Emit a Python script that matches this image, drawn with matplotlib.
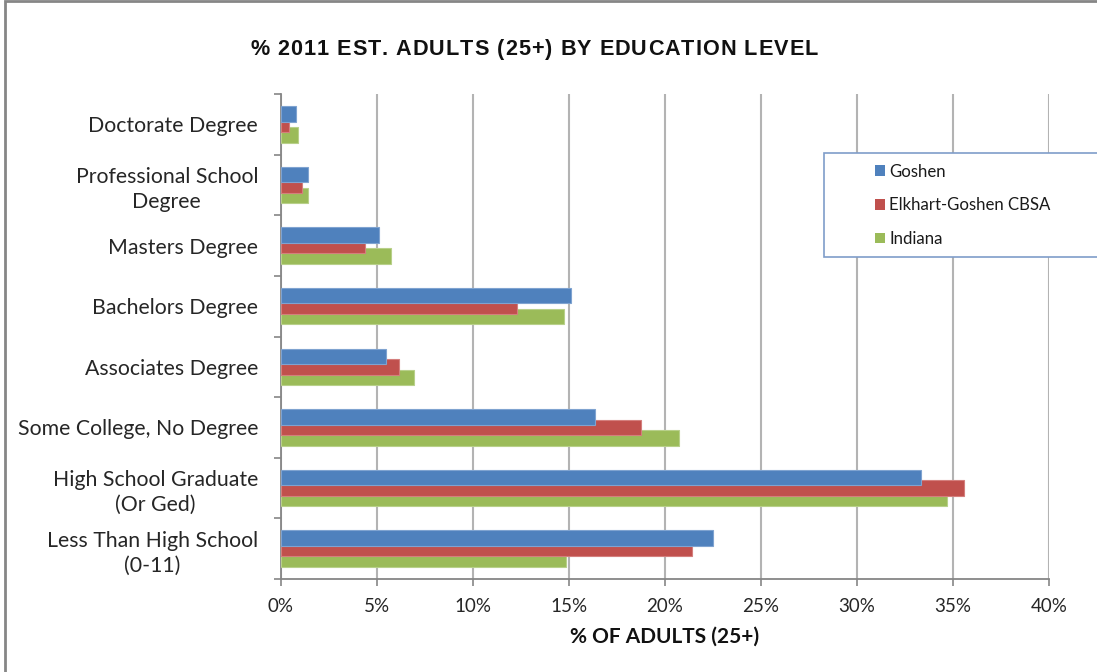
import matplotlib
matplotlib.use("Agg")
import matplotlib.pyplot as plt
from matplotlib.patches import Rectangle, Patch
from matplotlib.ticker import PercentFormatter
from matplotlib.textpath import TextPath
from matplotlib.font_manager import FontProperties
import numpy as np

categories = ["Doctorate Degree", "Professional School\nDegree", "Masters Degree",
              "Bachelors Degree", "Associates Degree", "Some College, No Degree",
              "High School Graduate\n(Or Ged)", "Less Than High School\n(0-11)"]
goshen = [0.78, 1.42, 5.09, 15.09, 5.47, 16.35, 33.32, 22.48]
elkhart = [0.43, 1.08, 4.38, 12.30, 6.15, 18.73, 35.56, 21.42]
indiana = [0.90, 1.42, 5.71, 14.72, 6.94, 20.73, 34.67, 14.84]
series_names = ["Goshen", "Elkhart-Goshen CBSA", "Indiana"]
colors = ["#4F81BD", "#C0504D", "#9BBB59"]
edges = ["#7FA3D0", "#D47F7D", "#B8D08A"]
x_ticks = [0, 5, 10, 15, 20, 25, 30, 35, 40]
title = "% 2011 EST. ADULTS (25+) BY EDUCATION LEVEL"

W, H = 1097, 672
fig = plt.figure(figsize=(W / 100, H / 100), dpi=100)
fig.patch.set_facecolor("white")

ax = fig.add_axes([281 / W, 1 - 579 / H, (1049 - 281) / W, (579 - 94) / H])

label_font = "Lato"
text_color = "#262626"
y = np.arange(len(categories))
step = 0.173
hgt = 0.256
series = [goshen, elkhart, indiana]
offsets = [-step, 0, step]
zorders = [5, 4, 3]
for vals, off, c, ec, z, name in zip(series, offsets, colors, edges, zorders, series_names):
    ax.barh(y + off, vals, height=hgt, color=c, edgecolor=ec, linewidth=0.8,
            zorder=z, label=name)

ax.set_xlim(0, 40)
ax.set_ylim(len(categories) - 0.5, -0.5)
ax.set_xticks(x_ticks)
ax.xaxis.set_major_formatter(PercentFormatter(decimals=0))
ax.grid(axis="x", color="#B3B3B3", linewidth=1.5, zorder=0)
ax.set_axisbelow(True)

ax.set_yticks(y)
ax.set_yticklabels(categories, multialignment="center", linespacing=1.32)
ax.set_yticks(np.arange(-0.5, len(categories) + 0.5, 1), minor=True)
ax.tick_params(axis="y", which="major", length=0, pad=16.5, labelsize=15.3,
               labelcolor=text_color)
ax.tick_params(axis="y", which="minor", length=5, width=1.2, color="#868686")
ax.tick_params(axis="x", which="major", length=5, width=1.2, color="#868686",
               pad=9, labelsize=13.5, labelcolor=text_color)
for lab in ax.get_yticklabels() + ax.get_xticklabels():
    lab.set_fontfamily(label_font)

for s in ["top", "right"]:
    ax.spines[s].set_visible(False)
for s in ["left", "bottom"]:
    ax.spines[s].set_color("#868686")
    ax.spines[s].set_linewidth(1.3)

ax.set_xlabel("% OF ADULTS (25+)", fontfamily=label_font, fontweight="bold",
              fontsize=15, color="#111111", labelpad=8)

# title with letter spacing
tfp = FontProperties(family="Liberation Sans", weight="bold", size=15.6)
px_per_pt = 100 / 72
extra = 1.0  # px letter spacing
adv = []
for ch in title:
    if ch == " ":
        w = TextPath((0, 0), "a a", prop=tfp).get_extents().width - \
            TextPath((0, 0), "aa", prop=tfp).get_extents().width
    else:
        w = TextPath((0, 0), "|" + ch + "|", prop=tfp).get_extents().width - \
            TextPath((0, 0), "||", prop=tfp).get_extents().width
    adv.append(w * px_per_pt)
total = sum(adv) + extra * (len(title) - 1)
xc = 534
xpos = xc - total / 2
for ch, a in zip(title, adv):
    fig.text(xpos / W, 1 - 47 / H, ch, ha="left", va="center_baseline",
             fontproperties=tfp, color="#111111")
    xpos += a + extra

# figure border
fig.patches.append(Rectangle((4.5 / W, -0.05), 1.2, 1.05 - 1.2 / H, transform=fig.transFigure,
                             fill=False, edgecolor="#868686", linewidth=2, zorder=0))

# legend box
fig.patches.append(Rectangle((824 / W, 1 - 257 / H), 300 / W, 104 / H,
                             transform=fig.transFigure, facecolor="white",
                             edgecolor="#7F9DC9", linewidth=1.2, zorder=10))
handles = [Patch(facecolor=c, edgecolor="none") for c in colors]
leg = fig.legend(handles, series_names, loc="upper left",
                 bbox_to_anchor=(868 / W, 1 - 157 / H), frameon=False,
                 prop={"family": label_font, "size": 12.1},
                 handlelength=0.6, handleheight=0.6, handletextpad=0.25,
                 labelspacing=1.05, borderaxespad=0)
for t in leg.get_texts():
    t.set_color("#1a1a1a")
leg.set_zorder(11)

fig.savefig("out.png", dpi=100)
